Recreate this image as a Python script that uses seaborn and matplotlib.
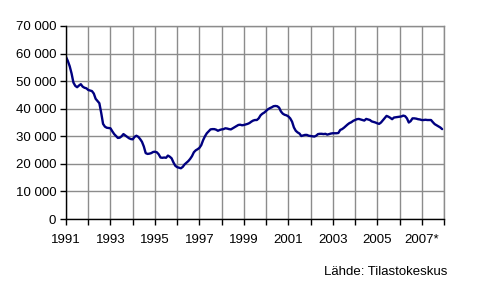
import matplotlib
matplotlib.use("Agg")
import matplotlib.pyplot as plt
import seaborn as sns
import numpy as np
import pandas as pd

# Monthly values (thousands), Jan 1991 - Dec 2007
v1991 = [58.8, 57.3, 55.4, 52.8, 49.5, 48.3, 47.8, 48.4, 48.9, 48.0, 47.6, 47.4]
v1992 = [46.8, 46.6, 46.4, 45.5, 43.6, 42.8, 42.0, 38.5, 34.5, 33.5, 33.1, 33.0]
v1993 = [32.9, 31.8, 30.8, 30.1, 29.4, 29.5, 30.0, 30.8, 30.3, 29.8, 29.3, 29.0]
v1994 = [28.9, 29.8, 30.2, 29.8, 29.0, 28.0, 26.3, 23.9, 23.6, 23.7, 23.9, 24.3]
v1995 = [24.4, 24.2, 23.5, 22.3, 22.2, 22.3, 22.2, 23.0, 22.6, 22.0, 20.5, 19.3]
v1996 = [18.8, 18.6, 18.4, 18.9, 19.8, 20.4, 21.0, 21.8, 22.8, 24.2, 24.9, 25.3]
v1997 = [25.8, 26.8, 28.6, 30.0, 31.1, 31.8, 32.5, 32.6, 32.6, 32.4, 32.0, 32.3]
v1998 = [32.5, 32.6, 32.9, 32.8, 32.6, 32.5, 32.9, 33.3, 33.7, 34.1, 34.2, 34.0]
v1999 = [34.1, 34.3, 34.5, 34.8, 35.3, 35.7, 35.9, 35.9, 36.5, 37.6, 38.2, 38.6]
v2000 = [39.2, 39.8, 40.2, 40.5, 40.9, 41.0, 40.9, 40.4, 39.0, 38.2, 37.8, 37.6]
v2001 = [37.2, 36.5, 35.3, 33.2, 32.0, 31.4, 31.0, 30.1, 30.3, 30.5, 30.5, 30.2]
v2002 = [30.1, 30.0, 29.9, 30.2, 30.8, 30.9, 30.9, 30.8, 30.9, 30.6, 30.8, 31.0]
v2003 = [31.1, 31.1, 31.1, 31.2, 32.3, 32.6, 33.1, 33.7, 34.3, 34.8, 35.1, 35.6]
v2004 = [35.9, 36.2, 36.3, 36.1, 35.9, 35.7, 36.3, 36.1, 35.9, 35.4, 35.2, 35.0]
v2005 = [34.7, 34.5, 35.0, 35.8, 36.6, 37.4, 37.1, 36.7, 36.2, 36.8, 36.9, 37.0]
v2006 = [37.1, 37.2, 37.5, 37.3, 36.5, 35.0, 35.5, 36.5, 36.5, 36.4, 36.2, 36.1]
v2007 = [35.9, 35.9, 36.0, 35.9, 35.9, 35.9, 35.1, 34.4, 34.0, 33.6, 33.2, 32.6]

years = list(range(1991, 2008))
year_labels = ["1991", "", "1993", "", "1995", "", "1997", "", "1999", "",
               "2001", "", "2003", "", "2005", "", "2007*", ""]
y_ticks = [0, 10000, 20000, 30000, 40000, 50000, 60000, 70000]
y_labels = ["0", "10 000", "20 000", "30 000", "40 000", "50 000", "60 000", "70 000"]
source = "Lähde: Tilastokeskus"

series = [v1991, v1992, v1993, v1994, v1995, v1996, v1997, v1998, v1999,
          v2000, v2001, v2002, v2003, v2004, v2005, v2006, v2007]
rows = []
for yr, vals in zip(years, series):
    for m, v in enumerate(vals):
        rows.append({"t": yr + m / 12.0, "value": v * 1000})
df = pd.DataFrame(rows)

sns.set_style("white")
plt.rcParams["font.family"] = ["Liberation Sans", "DejaVu Sans"]

W, H = 493, 288
fig = plt.figure(figsize=(W / 100, H / 100), dpi=100)
ax = fig.add_axes([66 / W, 1 - 219 / H, (444 - 66) / W, (219 - 26) / H])

grid_c = "#8c8c8c"
sns.lineplot(data=df, x="t", y="value", ax=ax, color="#000080", linewidth=1.7, zorder=3)

ax.set_xlim(1991, 2008)
ax.set_ylim(0, 70000)
ax.set_xticks(list(range(1991, 2009)))
ax.set_xticklabels(year_labels)
ax.set_yticks(y_ticks)
ax.set_yticklabels(y_labels)
ax.set_xlabel("")
ax.set_ylabel("")

ax.grid(True, color=grid_c, linewidth=1.0)
for s in ["top", "right"]:
    ax.spines[s].set_color(grid_c)
    ax.spines[s].set_linewidth(1.0)
for s in ["left", "bottom"]:
    ax.spines[s].set_color("black")
    ax.spines[s].set_linewidth(1.0)
    ax.spines[s].set_zorder(4)

ax.tick_params(axis="both", which="major", direction="out", length=4, width=1,
               color="black", labelsize=9.5, labelcolor="black", left=True, bottom=True)
ax.tick_params(axis="x", pad=7)
ax.tick_params(axis="y", pad=3)

fig.text(447 / W, 1 - 272 / H, source, ha="right", va="center", fontsize=9.5, color="black")

fig.savefig("out.png", dpi=100)
